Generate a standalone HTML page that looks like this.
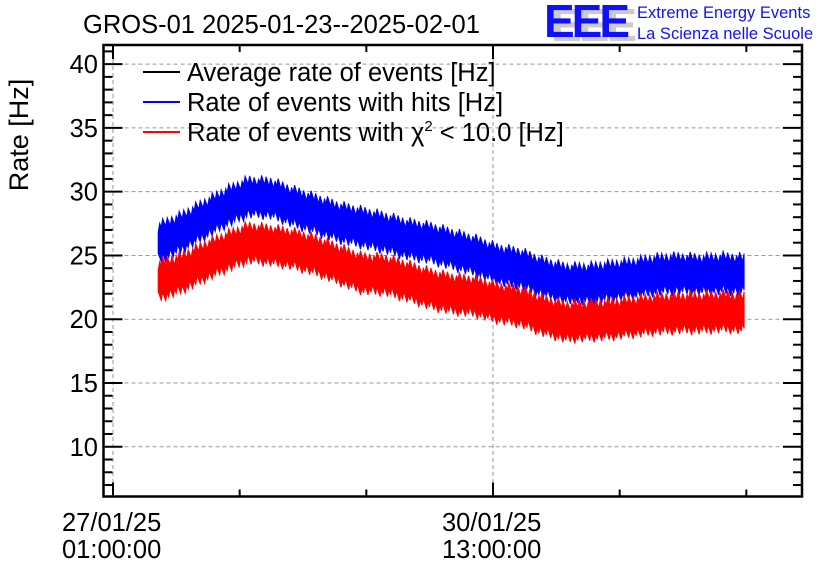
<!DOCTYPE html>
<html><head><meta charset="utf-8">
<style>
html,body{margin:0;padding:0;background:#fff;}
svg{display:block;font-family:"Liberation Sans",sans-serif;}
</style></head>
<body>
<svg id="chart" width="836" height="572" viewBox="0 0 836 572">
  <text x="83" y="33" font-size="25.5" fill="#000">GROS-01 2025-01-23--2025-02-01</text>
  <g>
    <text x="551" y="41" font-size="46" font-weight="bold" fill="#ccc" letter-spacing="-3">EEE</text>
    <text x="544" y="37" font-size="46" font-weight="bold" fill="#1010ff" letter-spacing="-3">EEE</text>
    <text x="637" y="18" font-size="16.5" fill="#1010ff">Extreme Energy Events</text>
    <text x="637" y="39" font-size="16.5" fill="#1010ff">La Scienza nelle Scuole</text>
  </g>
  <text transform="translate(28,135) rotate(-90)" text-anchor="middle" font-size="27" fill="#000">Rate [Hz]</text>
  <g id="grid"></g>
  <g id="series"></g>
  <g id="axes"></g>
  <g>
    <g><line x1="143" y1="72" x2="180" y2="72" stroke="#000" stroke-width="2"/><text x="187" y="81" font-size="25.5">Average rate of events [Hz]</text></g>
    <g><line x1="143" y1="102" x2="180" y2="102" stroke="#0000ff" stroke-width="2"/><text x="187" y="111" font-size="25.5">Rate of events with hits [Hz]</text></g>
    <g><line x1="143" y1="132" x2="180" y2="132" stroke="#ff0000" stroke-width="2"/><text x="187" y="141" font-size="25.5">Rate of events with χ<tspan font-size="15" dy="-10">2</tspan><tspan dy="10"> &lt; 10.0 [Hz]</tspan></text></g>
  </g>
</svg>
<script>
const hours = [10,15,20,25,30,35,40,45,50,55,60,65,70,75,80,85,90,95,100,105,110,115,120,125,130,135,139.5];
const hitsRate = [26,26.8,27.8,28.8,29.6,29.5,28.8,28.2,27.6,27.2,26.8,26.3,26,25.5,25,24.3,24,23.3,22.8,22.8,23,23.2,23.5,23.6,23.5,23.6,23.5];
const chi2Rate = [23,23.6,24.5,25.3,26,25.8,25.5,25,24.3,23.6,23.5,23,22.4,22,21.8,21.3,21,20.3,19.8,19.9,20,20.2,20.4,20.5,20.5,20.6,20.5];
const spread = 1.4;
const yTicks = [10,15,20,25,30,35,40];
const xMajorHours = [0,84];
const xMajorLabels = [["27/01/25","01:00:00"],["30/01/25","13:00:00"]];
const xMinorHours = [28,56,112,140];

const L=103.5,R=802,T=45,B=496.5;
const yMin=6.1,yMax=41.5;
const X=h=>113+h*380/84;
const Y=v=>B-(v-yMin)/(yMax-yMin)*(B-T);
const NS="http://www.w3.org/2000/svg";
function mk(tag,attrs,parent){const e=document.createElementNS(NS,tag);for(const k in attrs)e.setAttribute(k,attrs[k]);parent.appendChild(e);return e;}
const grid=document.getElementById('grid'),axes=document.getElementById('axes'),ser=document.getElementById('series');

yTicks.forEach(v=>{
  const g=mk('line',{x1:L,x2:R,y1:Y(v),y2:Y(v),stroke:'#999','stroke-dasharray':'4,3','stroke-width':1},grid);
  
  
  const t=mk('text',{x:98,y:Y(v)+9,'text-anchor':'end','font-size':25.5},axes);
  t.textContent=v;
  
  
});
xMajorHours.forEach((h,i)=>{
  const g=mk('line',{x1:X(h),x2:X(h),y1:T,y2:B,stroke:'#999','stroke-dasharray':'4,3','stroke-width':1},grid);
  
  
  const t=mk('text',{x:X(h)-51,y:531,'font-size':25.5},axes);
  t.textContent=xMajorLabels[i][0];
  
  
  const t2=mk('text',{x:X(h)-51,y:558,'font-size':25.5},axes);
  t2.textContent=xMajorLabels[i][1];
  
  
});

function interp(arr,h){
  for(let i=0;i<hours.length-1;i++){if(h<=hours[i+1]){const f=(h-hours[i])/(hours[i+1]-hours[i]);return arr[i]+f*(arr[i+1]-arr[i]);}}
  return arr[arr.length-1];
}
function drawSeries(arr,color,name){
  const h0=hours[0],h1=hours[hours.length-1];
  let up=[],dn=[];
  const n=Math.round((X(h1)-X(h0))/1.5);
  for(let i=0;i<=n;i++){
    const h=h0+(h1-h0)*i/n, v=interp(arr,h);
    const k=((i*7)%11)/11, s=spread*(0.6+0.7*k);
    up.push(X(h).toFixed(1)+','+Y(v+s).toFixed(1));
    dn.push(X(h).toFixed(1)+','+Y(v-spread*(0.6+0.7*((i*5)%13)/13)).toFixed(1));
  }
  const p=mk('polygon',{points:up.concat(dn.reverse()).join(' '),fill:color,stroke:color,'stroke-width':1,'stroke-linejoin':'miter'},ser);
  
  
}
drawSeries(hitsRate,'#0000ff','hits-rate-series');
drawSeries(chi2Rate,'#ff0000','chi2-rate-series');

const fr=mk('rect',{x:L,y:T,width:R-L,height:B-T,fill:'none',stroke:'#000','stroke-width':2.5},axes);


for(let v=7;v<=41;v++){
  const len=(v%5===0)?19:9;
  mk('line',{x1:L,x2:L+len,y1:Y(v),y2:Y(v),stroke:'#000','stroke-width':2},axes);
  mk('line',{x1:R,x2:R-len,y1:Y(v),y2:Y(v),stroke:'#000','stroke-width':2},axes);
}
xMajorHours.forEach(h=>{
  mk('line',{x1:X(h),x2:X(h),y1:B,y2:B-14,stroke:'#000','stroke-width':2},axes);
  mk('line',{x1:X(h),x2:X(h),y1:T,y2:T+14,stroke:'#000','stroke-width':2},axes);
});
xMinorHours.forEach(h=>{
  mk('line',{x1:X(h),x2:X(h),y1:B,y2:B-7,stroke:'#000','stroke-width':2},axes);
  mk('line',{x1:X(h),x2:X(h),y1:T,y2:T+7,stroke:'#000','stroke-width':2},axes);
});
</script>
</body></html>
